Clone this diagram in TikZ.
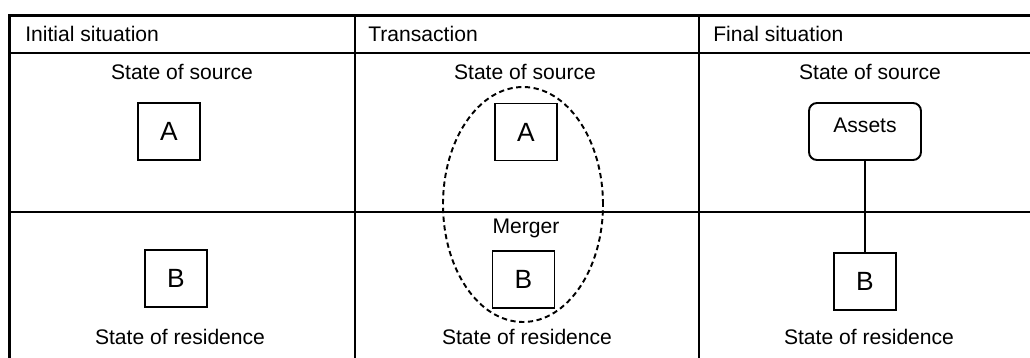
\documentclass[tikz,border=0pt]{standalone}
\usepackage{fontspec}
\setmainfont{Liberation Sans}
\usetikzlibrary{shapes.geometric}
\begin{document}
\begin{tikzpicture}[font=\fontsize{12}{14}\selectfont,
  statebox/.style={rectangle, draw, line width=1.1pt, minimum height=1.14cm, minimum width=1.24cm, inner sep=0pt, font=\fontsize{15}{18}\selectfont},
  label/.style={anchor=base, inner sep=0pt},
  head/.style={anchor=base west, inner sep=0pt}]
  \clip (0, 0) rectangle (20.6, -7.16);
  % Table
  \draw[line width=1.4pt] (0.19, -8) -- (0.19, -0.31) -- (21, -0.31);
  \draw[line width=0.9pt] (0.19, -1.06) -- (21, -1.06);
  \draw[line width=0.9pt] (0.19, -4.24) -- (21, -4.24);
  \draw[line width=1.2pt] (7.1, -0.31) -- (7.1, -8);
  \draw[line width=0.9pt] (13.98, -0.31) -- (13.98, -8);
  % Header
  \node (hinit) [head] at (0.5, -0.84) {Initial situation};
  \node (htrans) [head] at (7.36, -0.84) {Transaction};
  \node (hfinal) [head] at (14.26, -0.84) {Final situation};
  % Labels
  \node (src1) [label] at (3.64, -1.59) {State of source};
  \node (src2) [label] at (10.5, -1.59) {State of source};
  \node (src3) [label] at (17.4, -1.59) {State of source};
  \node (res1) [label] at (3.6, -6.88) {State of residence};
  \node (res2) [label] at (10.54, -6.88) {State of residence};
  \node (res3) [label] at (17.38, -6.88) {State of residence};
  \node (merger) [label] at (10.52, -4.68) {Merger};
  % Nodes
  \node (A1) [statebox] at (3.38, -2.63) {A};
  \node (B1) [statebox] at (3.52, -5.57) {B};
  \node (A2) [statebox] at (10.52, -2.64) {A};
  \node (B2) [statebox] at (10.47, -5.59) {B};
  \node (assets) [rectangle, draw, line width=1.1pt, rounded corners=0.16cm, minimum height=1.14cm, minimum width=2.24cm, inner sep=0pt] at (17.3, -2.63) {\raisebox{0.25cm}{Assets}};
  \node (B3) [statebox] at (17.3, -5.63) {B};
  % Merger ellipse
  \node (merge) [ellipse, draw, line width=1.1pt, dash pattern=on 3pt off 2pt, minimum width=3.2cm, minimum height=4.7cm] at (10.46, -4.09) {};
  % Lines
  \draw[line width=0.9pt] (assets) -- (B3);
\end{tikzpicture}
\end{document}
